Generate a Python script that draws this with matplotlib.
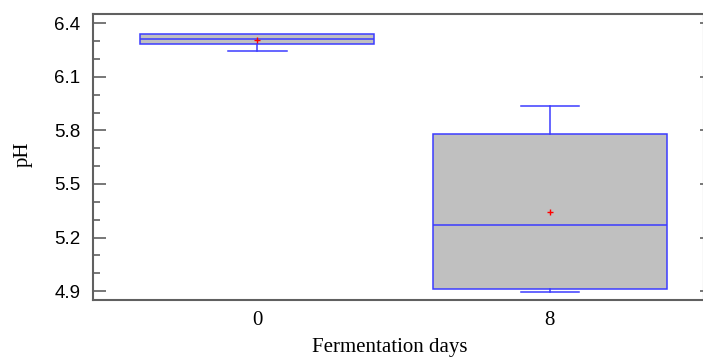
import matplotlib
matplotlib.use("Agg")
import matplotlib.pyplot as plt
from matplotlib.ticker import MultipleLocator

days = ["0", "8"]
q1 = [6.282, 4.914]
median = [6.314, 5.272]
q3 = [6.340, 5.778]
whislo = [6.243, 4.896]
whishi = [6.340, 5.937]
mean = [6.306, 5.343]
yticks = [4.9, 5.2, 5.5, 5.8, 6.1, 6.4]

fig = plt.figure(figsize=(7.03, 3.6), dpi=100)
ax = fig.add_axes([93/703, 60/360, 611/703, 286/360])

stats = []
for i, d in enumerate(days):
    stats.append(dict(label=d, q1=q1[i], med=median[i], q3=q3[i],
                      whislo=whislo[i], whishi=whishi[i], mean=mean[i], fliers=[]))

blue = "#3c3cff"
art = ax.bxp(stats, positions=range(len(days)), widths=0.8, patch_artist=True,
             showmeans=True, showfliers=False,
             boxprops=dict(facecolor="#c0c0c0", edgecolor=blue, linewidth=1.1),
             medianprops=dict(color=blue, linewidth=1.1),
             whiskerprops=dict(color=blue, linewidth=1.1),
             capprops=dict(color=blue, linewidth=1.1),
             capwidths=0.2,
             meanprops=dict(marker="+", markeredgecolor="red", markersize=4, markeredgewidth=1))
# no visible upper whisker/cap when it coincides with the box edge
for i in range(len(days)):
    if whishi[i] <= q3[i]:
        art["caps"][2*i+1].set_visible(False)
        art["whiskers"][2*i+1].set_visible(False)

ax.set_xlim(-0.562, 1.527)
ax.set_ylim(4.85, 6.452)
ax.set_yticks(yticks)
ax.set_yticklabels([f"{v:.1f}" for v in yticks], family="Liberation Sans", fontsize=13.5)
ax.yaxis.set_minor_locator(MultipleLocator(0.1))
ax.set_xticks(range(len(days)))
ax.set_xticklabels(days, family="Liberation Serif", fontsize=15)
ax.tick_params(axis="x", length=0, pad=8)
ax.tick_params(axis="y", which="major", direction="in", length=9, width=1.2,
               color="#606060", pad=9)
ax.tick_params(axis="y", which="minor", direction="in", length=5, width=1.2,
               color="#606060")
for s in ax.spines.values():
    s.set_color("#606060")
    s.set_linewidth(1.5)

ax2 = ax.twinx()
ax2.set_ylim(ax.get_ylim())
ax2.set_yticks(yticks)
ax2.set_yticklabels([])
ax2.tick_params(axis="y", direction="in", length=3, width=1.2, color="#606060")
ax2.spines[:].set_visible(False)

ax.set_xlabel("Fermentation days", family="Liberation Serif", fontsize=15)
ax.xaxis.set_label_coords(0.485, -0.132)
ax.set_ylabel("pH", family="Liberation Serif", fontsize=15)
ax.yaxis.set_label_coords(-0.098, 0.51)

fig.savefig("out.png", dpi=100)
